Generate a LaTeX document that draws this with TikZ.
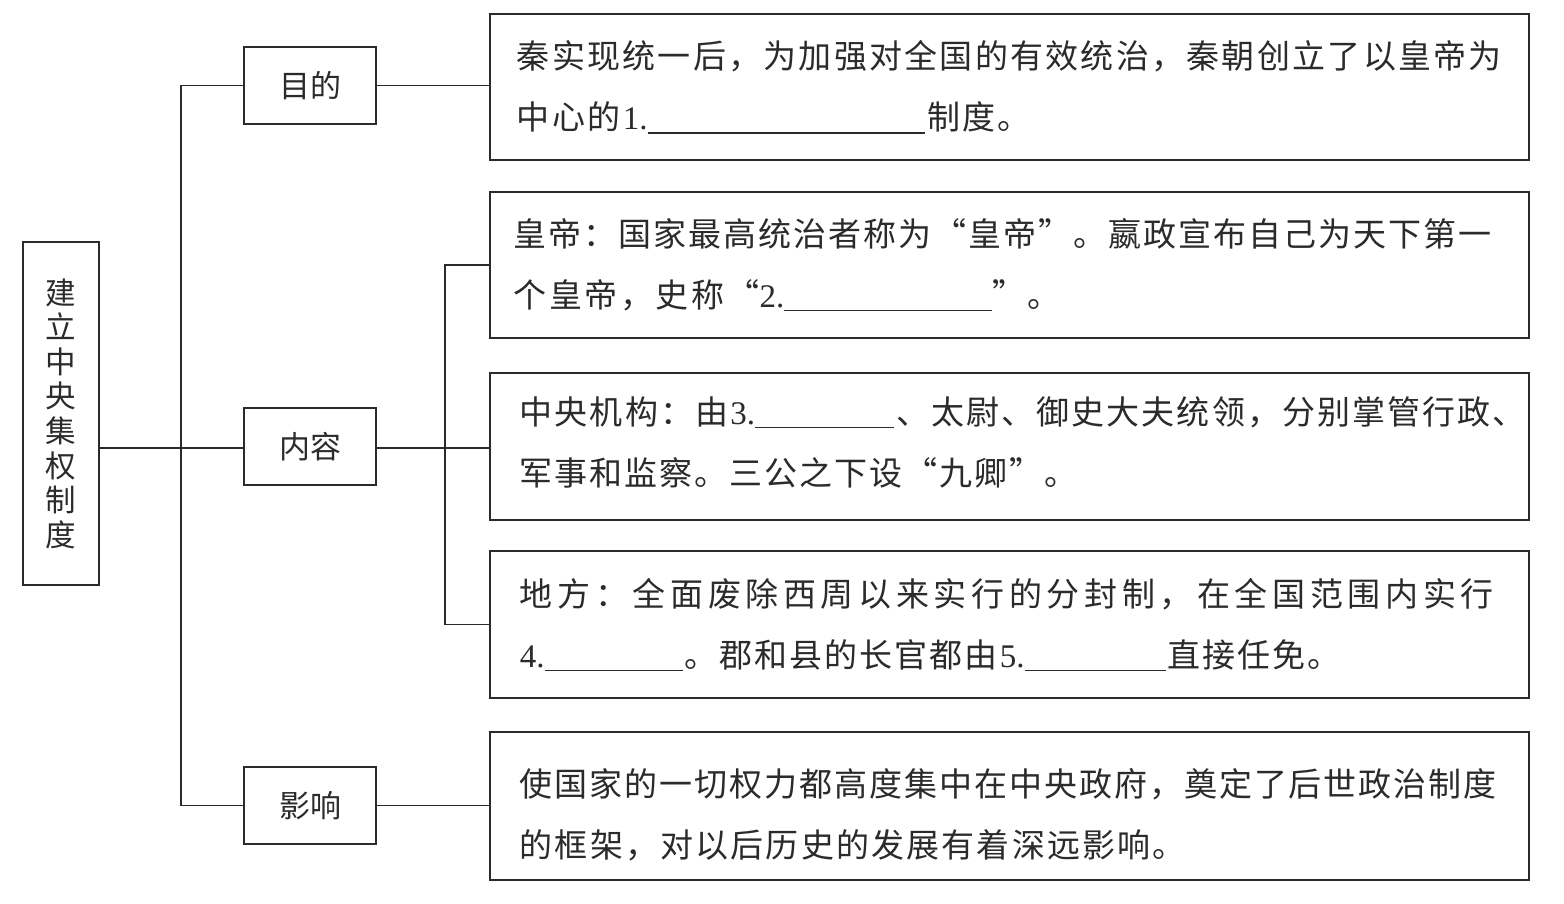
\documentclass[tikz,border=0pt]{standalone}
\usepackage{fontspec}
\setmainfont{Noto Sans CJK SC}
\newfontfamily\lat{Liberation Serif}
\definecolor{ink}{HTML}{2B2B2B}
\def\jlstop{jlstop}
\def\jl#1#2#3{\hbox to 1039pt{\hskip#1pt\hbox to #2pt{\jlfirst#3\jlstop}\hss}}
\def\jlfirst#1{#1\jlnext}
\def\jlnext#1{\ifx\jlstop#1\else\hfil#1\expandafter\jlnext\fi}
\newcommand\blk[1]{\rule[-4pt]{#1pt}{1.3pt}}
\newcommand\dig[1]{{\lat #1}}
\tikzset{
  txtbox/.style={draw=ink, line width=1.6pt, minimum width=1039pt, inner sep=0pt,
    align=left, font=\fontsize{33}{61}\selectfont, text=ink, anchor=west},
  lvbox/.style={draw=ink, line width=1.6pt, minimum width=132pt, minimum height=77pt,
    inner sep=0pt, font=\fontsize{31}{31}\selectfont, text=ink},
  rootbox/.style={draw=ink, line width=1.6pt, minimum width=76pt, minimum height=343pt,
    inner sep=0pt, align=center, font=\fontsize{30.5}{34.6}\selectfont, text=ink},
  conn/.style={draw=ink, line width=1.5pt},
}
\begin{document}
\begin{tikzpicture}[x=1pt,y=-1pt]
\useasboundingbox (0,0) rectangle (1564,903);
\fill[white] (0,0) rectangle (1564,903);

\node[rootbox] (root) at (61,413.5) {建\\立\\中\\央\\集\\权\\制\\度};

\node[lvbox] (m1) at (310,85.5) {目的};
\node[lvbox] (m2) at (310,446.5) {内容};
\node[lvbox] (m3) at (310,805.5) {影响};

\node[txtbox, minimum height=146pt] (b1) at (489,87) {%
\jl{27}{985}{秦实现统一后，为加强对全国的有效统治，秦朝创立了以皇帝为}\\
\jl{27}{514}{中心的{\dig{1.}\blk{277}}制度。}};

\node[txtbox, minimum height=146pt] (b2) at (489,265) {%
\jl{24}{978}{皇帝：国家最高统治者称为“皇帝”。嬴政宣布自己为天下第一}\\
\jl{24}{547}{个皇帝，史称{“\dig{2.}\blk{208}”}。}};

\node[txtbox, minimum height=147pt] (b3) at (489,446.5) {%
\jl{30}{1006}{中央机构：由{\dig{3.}\blk{139}}、太尉、御史大夫统领，分别掌管行政、}\\
\rule[-11pt]{0pt}{11pt}\jl{30}{558}{军事和监察。三公之下设“九卿”。}};

\node[txtbox, minimum height=147pt] (b4) at (489,624.5) {%
\jl{30}{974}{地方：全面废除西周以来实行的分封制，在全国范围内实行}\\
\jl{30}{821}{{\dig{4.}\blk{138}}。郡和县的长官都由{\dig{5.}\blk{141}}直接任免。}};

\node[txtbox, minimum height=148pt] (b5) at (489,806) {%
\rule{0pt}{45pt}\jl{30}{977}{使国家的一切权力都高度集中在中央政府，奠定了后世政治制度}\\
\jl{30}{666}{的框架，对以后历史的发展有着深远影响。}};

\coordinate (j1) at (181,448);
\coordinate (j2) at (445,448);

\draw[conn] (root.east |- j1) -- (j1 -| m2.west);
\draw[conn] (m1.west) -| (j1) |- (m3.west);
\draw[conn] (m1.east) -- (m1.east -| b1.west);
\draw[conn] (m2.east |- j2) -- (j2 -| b3.west);
\draw[conn] (b2.west) -| (j2) |- (b4.west);
\draw[conn] (m3.east) -- (m3.east -| b5.west);
\end{tikzpicture}
\end{document}
